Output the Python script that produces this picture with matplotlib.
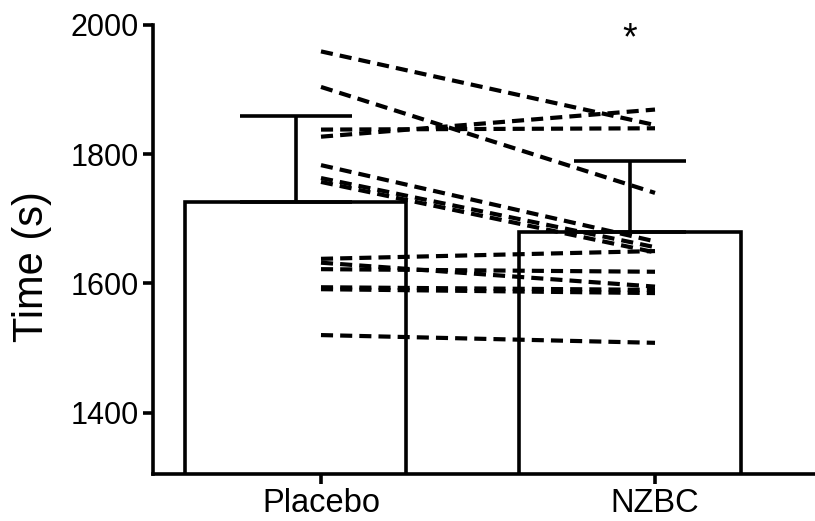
import numpy as np
import matplotlib
matplotlib.use("Agg")
import matplotlib.pyplot as plt

plt.rcParams['font.family'] = ['Liberation Sans', 'DejaVu Sans']

# groups and bar values (mean, SD)
groups = ["Placebo", "NZBC"]
means = [1726, 1679]
sds = [133, 110]

# individual subjects, placebo -> NZBC
placebo = [1959, 1904, 1838, 1827, 1783, 1763, 1757, 1638, 1632, 1622, 1594, 1591, 1520]
nzbc = [1845, 1740, 1840, 1869, 1665, 1656, 1648, 1650, 1595, 1618, 1590, 1585, 1508]

fig = plt.figure(figsize=(8.15, 5.21), dpi=100)
ax = fig.add_axes([0.1877, 0.0902, 0.8123, 0.862])

x = np.arange(len(groups))
bar_x = x - 0.075

ax.bar(bar_x, means, width=0.662, bottom=0, color="white", edgecolor="black",
       linewidth=2.6, zorder=2)
ax.errorbar(bar_x, means, yerr=[[0, 0], sds], fmt="none", ecolor="black",
            elinewidth=2.6, capsize=40, capthick=2.6, zorder=3)

# paired lines
for p, n in zip(placebo, nzbc):
    ax.plot([x[0], x[1]], [p, n], color="black", lw=3.0, dashes=(2.9, 1.7),
            zorder=4, dash_capstyle="butt")

ax.text(x[1] - 0.075, 1978, "*", ha="center", va="center", fontsize=27)

ax.set_xlim(-0.503, 1.479)
ax.set_ylim(1305, 2000)
ax.set_yticks([1400, 1600, 1800, 2000])
ax.set_xticks(x)
ax.set_xticklabels(groups, fontsize=23.5)
ax.set_ylabel("Time (s)", fontsize=30)
ax.yaxis.set_label_coords(-0.153, 0.461)

for s in ["top", "right"]:
    ax.spines[s].set_visible(False)
for s in ["left", "bottom"]:
    ax.spines[s].set_linewidth(2.6)
ax.tick_params(axis="both", direction="out", length=7, width=2.6, pad=3)
ax.tick_params(axis="y", labelsize=22)

fig.savefig("out.png", dpi=100)
